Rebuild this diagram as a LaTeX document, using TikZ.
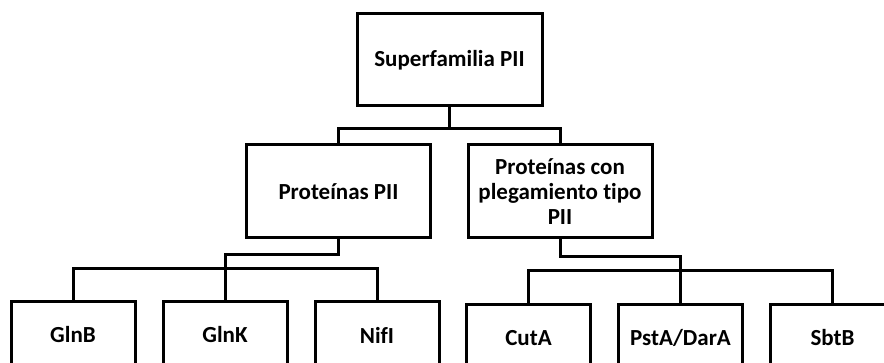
\documentclass[tikz,border=0pt]{standalone}
\usepackage{fontspec}
\setmainfont{Carlito}[Ligatures={NoCommon}]
\usepackage{tikz}
\usetikzlibrary{positioning}

\begin{document}
\begin{tikzpicture}[
    x=1pt, y=1pt,
    node distance=25pt,
    block/.style={rectangle, draw, line width=3pt, align=center, inner sep=2pt,
                  font=\fontsize{23}{25}\selectfont\bfseries},
    group/.style={block, minimum width=184pt, minimum height=93pt},
    leaf/.style={block, minimum width=124pt, minimum height=66pt},
    link/.style={line width=3pt}
]
\useasboundingbox (0,0) rectangle (884,363);
\clip (0,0) rectangle (884,363);

\node[block, minimum width=185pt, minimum height=92pt] (sup) at (449.5,303) {Superfamilia PII};
\node[group] (pii) at (338.5,171.5) {Proteínas PII};
\node[group] (plg) at (560,171.5) {Proteínas con\\plegamiento tipo\\PII};

% hojas
\node[leaf] (glnb) at (73,28) {GlnB};
\node[leaf, right=of glnb] (glnk) {GlnK};
\node[leaf, right=of glnk] (nifi) {NifI};
\node[leaf] (cuta) at (528.5,25) {CutA};
\node[leaf, right=of cuta] (psta) {PstA/DarA};
\node[leaf, right=of psta] (sbtb) {SbtB};

\draw[link] (sup.south) -- ++(0,-21) -| (pii.north);
\draw[link] (sup.south) -- ++(0,-21) -| (plg.north);

\draw[link] (pii.south) -- ++(0,-15) -| (glnk.north);
\draw[link] (glnb.north) -- ++(0,32) -| (nifi.north);

\draw[link] (plg.south) -- ++(0,-17) -| (psta.north);
\draw[link] (cuta.north) -- ++(0,33) -| (sbtb.north);

\end{tikzpicture}
\end{document}
